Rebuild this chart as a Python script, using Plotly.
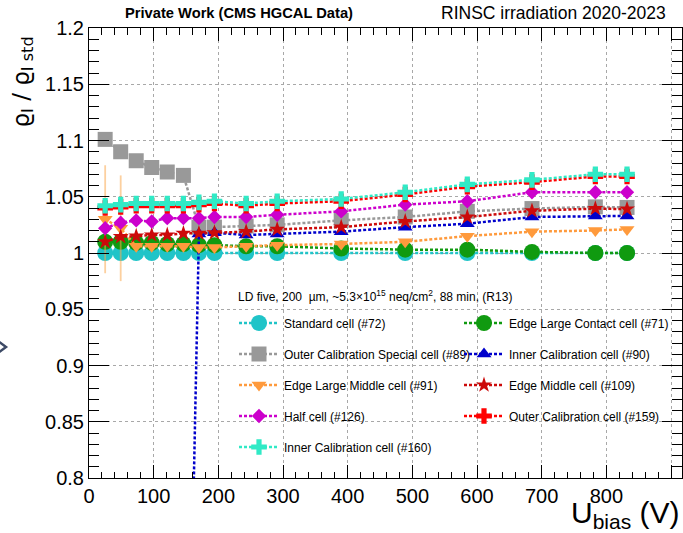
import plotly.graph_objects as go

# ---------------- data ----------------
U_BIAS = [25, 49, 73, 97, 121, 146, 170, 194, 243, 291, 390, 489, 585, 685, 783, 832]

STANDARD_72 = [1.000, 1.000, 1.000, 1.000, 1.000, 1.000, 1.000, 1.000,
               1.000, 1.000, 1.000, 1.000, 1.000, 1.000, 1.000, 1.000]
EDGE_LARGE_CONTACT_71 = [1.010, 1.010, 1.009, 1.009, 1.008, 1.008, 1.007, 1.007,
                         1.006, 1.006, 1.004, 1.003, 1.003, 1.001, 1.000, 1.000]
OUTER_CAL_SPECIAL_89 = [1.101, 1.090, 1.082, 1.076, 1.072, 1.069, 1.023, 1.023,
                        1.024, 1.025, 1.029, 1.032, 1.037, 1.0395, 1.041, 1.0405]
INNER_CAL_90 = [None, None, None, None, None, 0.35, 1.017, 1.018,
                1.016, 1.017, 1.019, 1.023, 1.026, 1.032, 1.033, 1.033]
EDGE_LARGE_MIDDLE_91 = [1.030, 1.022, 1.006, 1.006, 1.006, 1.006, 1.005, 1.005,
                        1.006, 1.007, 1.008, 1.010, 1.015, 1.019, 1.020, 1.021]
EDGE_LARGE_MIDDLE_91_ERR = [0.048, 0.047, 0, 0, 0, 0, 0, 0,
                            0, 0, 0, 0, 0, 0, 0, 0]
EDGE_MIDDLE_109 = [1.010, 1.0145, 1.015, 1.016, 1.016, 1.0175, 1.0175, 1.018,
                   1.019, 1.021, 1.023, 1.028, 1.032, 1.0375, 1.0395, 1.039]
HALF_126 = [1.022, 1.027, 1.029, 1.028, 1.031, 1.031, 1.031, 1.032,
            1.032, 1.034, 1.037, 1.043, 1.046, 1.054, 1.054, 1.054]
OUTER_CAL_159 = [1.040, 1.041, 1.042, 1.042, 1.042, 1.042, 1.043, 1.044,
                 1.042, 1.044, 1.046, 1.052, 1.059, 1.063, 1.068, 1.068]
INNER_CAL_160 = [1.042, 1.043, 1.044, 1.044, 1.044, 1.044, 1.045, 1.046,
                 1.044, 1.046, 1.048, 1.054, 1.061, 1.065, 1.070, 1.070]

NAMES = ["Standard cell (#72)", "Edge Large Contact cell (#71)",
         "Outer Calibration Special cell (#89)", "Inner Calibration cell (#90)",
         "Edge Large Middle cell (#91)", "Edge Middle cell (#109)",
         "Half cell (#126)", "Outer Calibration cell (#159)",
         "Inner Calibration cell (#160)"]
VALUES = [STANDARD_72, EDGE_LARGE_CONTACT_71, OUTER_CAL_SPECIAL_89, INNER_CAL_90,
          EDGE_LARGE_MIDDLE_91, EDGE_MIDDLE_109, HALF_126, OUTER_CAL_159, INNER_CAL_160]
ERRORS = [None, None, None, None, EDGE_LARGE_MIDDLE_91_ERR, None, None, None, None]

X_TICKS = [0, 100, 200, 300, 400, 500, 600, 700, 800, 900]
Y_TICKS = [0.8, 0.85, 0.9, 0.95, 1.0, 1.05, 1.1, 1.15, 1.2]
Y_TICK_TEXT = ["0.8", "0.85", "0.9", "0.95", "1", "1.05", "1.1", "1.15", "1.2"]

# ---------------- styles ----------------
COLORS = ["#20c4c8", "#109a10", "#999999", "#0000cc", "#ff9a3c",
          "#cc0a0a", "#cc00cc", "#ff0000", "#30eac6"]
SYMBOLS = ["circle", "circle", "square", "triangle-up", "triangle-down",
           "star", "diamond", "cross", "cross"]
SIZES = [16, 16, 15, 13, 13, 12, 11, 13, 13]
LEGENDS = ["legend", "legend2", "legend", "legend2", "legend",
           "legend2", "legend", "legend2", "legend"]

FONT = "Liberation Sans, Arial, Helvetica, sans-serif"
W, H = 683, 533
L, R, T, B = 89, 682, 28, 478  # plot area in pixels


def px_x(p):
    return (p - L) / (R - L)


def px_y(p):
    return (B - p) / (B - T)


fig = go.Figure()
for i, (name, vals) in enumerate(zip(NAMES, VALUES)):
    err = ERRORS[i]
    fig.add_trace(go.Scatter(
        x=U_BIAS, y=vals, name=name, mode="lines+markers",
        legend=LEGENDS[i], legendgroup="g%d" % i,
        connectgaps=False,
        line=dict(color=COLORS[i], width=2.5, dash="3px,2px"),
        marker=dict(symbol=SYMBOLS[i], size=SIZES[i], color=COLORS[i],
                    line=dict(width=0)),
        error_y=(dict(type="data", array=err, visible=True, width=0,
                      thickness=1.8, color="rgba(250,170,80,0.55)")
                 if err is not None else None),
        cliponaxis=True,
    ))

axis_common = dict(
    showline=True, linecolor="black", linewidth=1, mirror="allticks",
    ticks="inside", tickcolor="black", tickwidth=1,
    showgrid=True, gridcolor="#a8a8a8", griddash="dot", gridwidth=1,
    zeroline=False, tickfont=dict(family=FONT, size=20, color="black"),
)

fig.update_xaxes(
    range=[0, 917], tickvals=X_TICKS, ticklen=13,
    minor=dict(dtick=20, ticklen=6.5, ticks="inside", tickcolor="black",
               showgrid=False),
    **axis_common)
fig.update_yaxes(
    range=[0.8, 1.2], tickvals=Y_TICKS, ticktext=Y_TICK_TEXT, ticklen=20,
    minor=dict(dtick=0.01, ticklen=10, ticks="inside", tickcolor="black",
               showgrid=False),
    **axis_common)

legend_common = dict(
    bgcolor="rgba(0,0,0,0)", borderwidth=0, orientation="v",
    font=dict(family=FONT, size=12, color="black"),
    tracegroupgap=12, itemwidth=40, traceorder="grouped",
    xanchor="left", yanchor="top", itemclick=False,
)

fig.update_layout(
    width=W, height=H,
    margin=dict(l=L, r=W - R, t=T, b=H - B, pad=0),
    paper_bgcolor="white", plot_bgcolor="white",
    font=dict(family=FONT, color="black"),
    showlegend=True,
    legend=dict(x=px_x(234), y=px_y(308.5), **legend_common),
    legend2=dict(x=px_x(459), y=px_y(308.5), **legend_common),
    shapes=[
        dict(type="rect", xref="paper", yref="paper", layer="between",
             x0=px_x(232), x1=px_x(668), y0=px_y(462), y1=px_y(283),
             fillcolor="white", line=dict(width=0)),
        dict(type="path", xref="paper", yref="paper", layer="above",
             path="M %f,%f L %f,%f L %f,%f" % (px_x(-10), px_y(335), px_x(6), px_y(347),
                                               px_x(-10), px_y(359)),
             line=dict(color="#3d4a66", width=2.5)),
    ],
    annotations=[
        dict(text="<b>Private Work (CMS HGCAL Data)</b>", xref="paper", yref="paper",
             x=px_x(123), y=px_y(13), xanchor="left", yanchor="middle",
             showarrow=False, font=dict(family=FONT, size=14.7, color="black")),
        dict(text="RINSC irradiation 2020-2023", xref="paper", yref="paper",
             x=px_x(668), y=px_y(13), xanchor="right", yanchor="middle",
             showarrow=False, font=dict(family=FONT, size=17.5, color="black")),
        dict(text="LD five, 200  \u00b5m, ~5.3\u00d710<sup>15</sup> neq/cm<sup>2</sup>, 88 min, (R13)",
             xref="paper", yref="paper", x=px_x(236), y=px_y(296),
             xanchor="left", yanchor="middle", showarrow=False,
             font=dict(family=FONT, size=12, color="black")),
        dict(text="\u03f1<sub>I</sub> / \u03f1<sub>I std</sub>", xref="paper", yref="paper",
             x=px_x(22), y=px_y(35), xanchor="center", yanchor="top", textangle=-90,
             showarrow=False,
             font=dict(family="DejaVu Sans, Liberation Sans, sans-serif", size=23,
                       color="black")),
        dict(text="U<sub>bias</sub> (V)", xref="paper", yref="paper",
             x=px_x(682), y=px_y(535), xanchor="right", yanchor="bottom",
             showarrow=False, font=dict(family=FONT, size=30, color="black")),
    ],
)

fig.write_html("out.html")
